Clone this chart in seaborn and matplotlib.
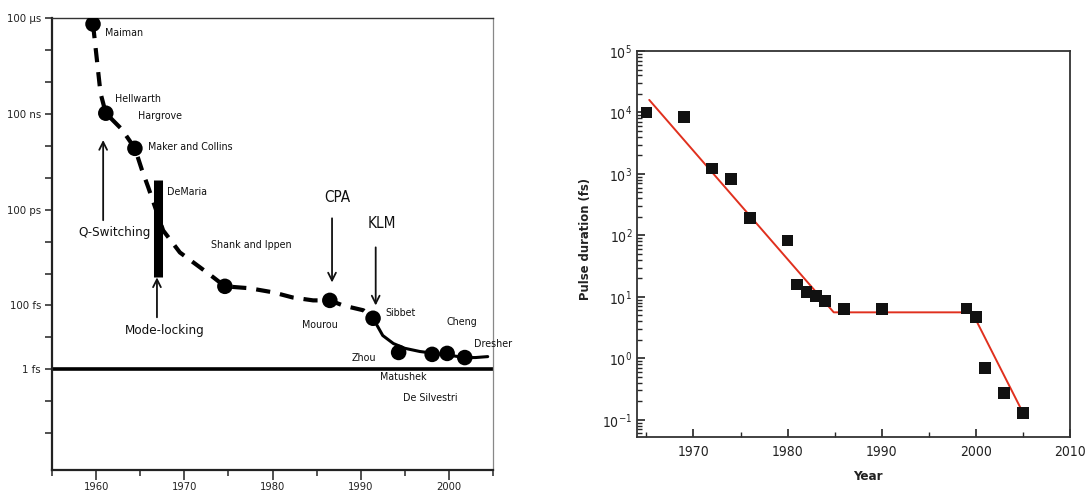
import numpy as np
import pandas as pd
import matplotlib
matplotlib.use("Agg")
import matplotlib.pyplot as plt
from matplotlib import font_manager as fm
from matplotlib.ticker import FixedLocator, NullFormatter, LogFormatterMathtext
import seaborn as sns

# ---------------- data: left panel (history of short pulses) ----------------
dot_years = [1959.65, 1961.1, 1964.4, 1974.6, 1986.5, 1991.4, 1994.3, 1998.1, 1999.8, 2001.8]
dot_log_fs = [10.81, 8.02, 6.92, 2.60, 2.16, 1.60, 0.53, 0.47, 0.50, 0.37]

dash_years = [1959.65, 1960.5, 1961.1, 1962.9, 1964.4, 1965.2, 1965.9, 1967.6, 1969.5,
              1971.8, 1973.3, 1974.6, 1977.4, 1980.1, 1982.3, 1984.6, 1986.5, 1988.0,
              1990.3, 1991.4]
dash_log_fs = [10.81, 8.65, 8.02, 7.52, 6.92, 6.24, 5.71, 4.35, 3.66,
               3.19, 2.88, 2.60, 2.54, 2.41, 2.25, 2.16, 2.16, 2.00,
               1.85, 1.60]
solid_years = [1991.4, 1992.5, 1993.7, 1995.0, 1996.7, 1998.4, 2000.1, 2001.8, 2003.0, 2004.4]
solid_log_fs = [1.60, 1.06, 0.81, 0.66, 0.56, 0.50, 0.44, 0.37, 0.37, 0.40]

demaria_year = 1967.0
demaria_log_range = [2.88, 5.92]

left_ytick_exp = [11, 8, 5, 2, 0]
left_ytick_labels = ["100 \u00b5s", "100 ns", "100 ps", "100 fs", "1 fs"]

# names: (text, index of dot it belongs to, offset px right, offset px up)
names = ["Maiman", "Hellwarth", "Hargrove", "Maker and Collins", "Shank and Ippen",
         "Mourou", "Sibbet", "Zhou", "Matushek", "De Silvestri", "Cheng", "Dresher"]
name_dot = [0, 1, 1, 2, 3, 4, 5, 6, 6, 7, 8, 9]
name_dx = [12, 9, 32, 13, -14, -10, 12, -47, -19, -29, -1, 9]
name_dy = [-9, 14, -3, 1, 41, -25, 5, -6, -25, -44, 31, 14]
name_ha = ["left", "left", "left", "left", "left", "center", "left", "left", "left",
           "left", "left", "left"]

# technique arrows: label, arrow x, tail exp, tip exp, label x, label exp
tech_labels = ["Q-Switching", "Mode-locking", "CPA", "KLM"]
tech_x = [1960.8, 1966.9, 1986.75, 1991.7]
tech_tail = [4.67, 1.63, 4.73, 3.82]
tech_tip = [7.18, 2.88, 2.72, 2.00]
tech_tx = [1962.1, 1967.8, 1987.3, 1992.4]
tech_ty = [4.29, 1.22, 5.39, 4.57]
tech_size = [9.2, 9.2, 10.5, 10.5]

# ---------------- data: right panel (pulse duration vs year) ----------------
sq_years = [1965, 1969, 1972, 1974, 1976, 1980, 1981, 1982, 1983, 1984, 1986, 1990,
            1999, 2000, 2001, 2003, 2005]
sq_fs = [10000, 8500, 1230, 830, 190, 83, 16, 12, 10.3, 8.5, 6.3, 6.3,
         6.5, 4.7, 0.69, 0.27, 0.13]
fit_years = [1965.3, 1984.9, 1999.6, 2004.8]
fit_fs = [16000, 5.6, 5.6, 0.15]

# ---------------- style ----------------
sns.set_style("ticks")


def _find(fam, stretch="normal"):
    try:
        return fm.findfont(fm.FontProperties(family=fam, stretch=stretch),
                           fallback_to_default=False)
    except Exception:
        return None


# the reference uses a condensed grotesque; use a narrow face when available
k = 1.0
fam = ["Liberation Sans", "DejaVu Sans"]
stretch = "normal"
if _find("Liberation Sans Narrow"):
    fam = ["Liberation Sans Narrow", "Liberation Sans", "DejaVu Sans"]
    k = 1.2
else:
    p = _find("DejaVu Sans", "condensed")
    if p and "ondensed" in p:
        fam = ["DejaVu Sans", "Liberation Sans"]
        stretch = "condensed"
        k = 1.05
plt.rcParams["font.family"] = fam
plt.rcParams["font.stretch"] = stretch
plt.rcParams["mathtext.fontset"] = "custom"
plt.rcParams["mathtext.rm"] = fam[0]
plt.rcParams["mathtext.bf"] = fam[0] + ":bold"

fig = plt.figure(figsize=(10.9, 5.0), dpi=100)
axL = fig.add_axes([52 / 1090, 30 / 500, 441 / 1090, 452 / 500])
axR = fig.add_axes([637 / 1090, 63 / 500, 433 / 1090, 386 / 500])

# ---------------- left panel ----------------
dash_df = pd.DataFrame({"year": dash_years, "fs": 10.0 ** np.array(dash_log_fs)})
solid_df = pd.DataFrame({"year": solid_years, "fs": 10.0 ** np.array(solid_log_fs)})
dots_df = pd.DataFrame({"year": dot_years, "fs": 10.0 ** np.array(dot_log_fs)})

sns.lineplot(data=dash_df, x="year", y="fs", ax=axL, color="black", lw=3.0,
             linestyle=(0, (3.4, 2.4)), estimator=None, sort=False, zorder=2)
sns.lineplot(data=solid_df, x="year", y="fs", ax=axL, color="black", lw=2.2,
             estimator=None, sort=False, zorder=2)
sns.scatterplot(data=dots_df, x="year", y="fs", ax=axL, color="black", s=125,
                marker="o", edgecolor="none", zorder=3)
axL.plot([demaria_year, demaria_year], 10.0 ** np.array(demaria_log_range),
         color="black", lw=6.5, solid_capstyle="butt", zorder=3)
axL.axhline(1.0, color="black", lw=2.6, zorder=2)

axL.set_yscale("log")
axL.set_xlim(1955, 2005)
axL.set_ylim(10 ** -3.15, 10 ** 11)
tick_exps = list(range(-2, 12))
axL.yaxis.set_major_locator(FixedLocator([10.0 ** e for e in tick_exps]))
axL.yaxis.set_minor_locator(FixedLocator([]))
ylabels = [left_ytick_labels[left_ytick_exp.index(e)] if e in left_ytick_exp else ""
           for e in tick_exps]
axL.set_yticklabels(ylabels)
axL.xaxis.set_major_locator(FixedLocator([1960, 1970, 1980, 1990, 2000]))
axL.xaxis.set_minor_locator(FixedLocator([1955, 1965, 1975, 1985, 1995, 2005]))
axL.tick_params(axis="y", which="major", direction="out", length=5, width=1.1,
                labelsize=7.8 * k, pad=3, colors="#222222")
axL.tick_params(axis="x", which="major", direction="out", length=7, width=1.1,
                labelsize=7.6 * k, pad=2, colors="#222222")
axL.tick_params(axis="x", which="minor", direction="out", length=4, width=1.1)
axL.set_xlabel("")
axL.set_ylabel("")
for side in ["left", "bottom"]:
    axL.spines[side].set_linewidth(1.6)
    axL.spines[side].set_color("#222222")
axL.spines["top"].set_linewidth(1.0)
axL.spines["top"].set_color("#333333")
axL.spines["right"].set_linewidth(0.9)
axL.spines["right"].set_color("#888888")
axL.spines["top"].set_visible(True)
axL.spines["right"].set_visible(True)

for txt, di, dx, dy, ha in zip(names, name_dot, name_dx, name_dy, name_ha):
    axL.annotate(txt, xy=(dot_years[di], 10.0 ** dot_log_fs[di]),
                 xytext=(dx * 0.72, dy * 0.72), textcoords="offset points",
                 ha=ha, va="center", fontsize=7.3 * k, color="#111111",
                 annotation_clip=False, zorder=4)
axL.annotate("DeMaria", xy=(demaria_year, 10.0 ** demaria_log_range[1]),
             xytext=(9 * 0.72, -12 * 0.72), textcoords="offset points",
             ha="left", va="center", fontsize=7.3 * k, color="#111111")

for lab, x, t0, t1, tx, ty, fsz in zip(tech_labels, tech_x, tech_tail, tech_tip,
                                       tech_tx, tech_ty, tech_size):
    axL.annotate("", xy=(x, 10.0 ** t1), xytext=(x, 10.0 ** t0),
                 arrowprops=dict(arrowstyle="->", color="#111111", lw=1.3,
                                 mutation_scale=14, shrinkA=0, shrinkB=0))
    axL.text(tx, 10.0 ** ty, lab, ha="center", va="center", fontsize=fsz * k,
             color="#111111")

# ---------------- right panel ----------------
sq_df = pd.DataFrame({"year": sq_years, "fs": sq_fs})
fit_df = pd.DataFrame({"year": fit_years, "fs": fit_fs})
sns.lineplot(data=fit_df, x="year", y="fs", ax=axR, color="#e0301e", lw=1.4,
             estimator=None, sort=False, zorder=2)
sns.scatterplot(data=sq_df, x="year", y="fs", ax=axR, color="#111111", s=70,
                marker="s", edgecolor="none", zorder=3)
axR.set_yscale("log")
axR.set_xlim(1964, 2010)
axR.set_ylim(10 ** -1.28, 1e5)
maj_exps = list(range(-1, 6))
axR.yaxis.set_major_locator(FixedLocator([10.0 ** e for e in maj_exps]))
axR.yaxis.set_major_formatter(LogFormatterMathtext())
minors = [m * 10.0 ** e for e in range(-2, 5) for m in range(2, 10)
          if 10 ** -1.28 <= m * 10.0 ** e <= 1e5]
axR.yaxis.set_minor_locator(FixedLocator(minors))
axR.yaxis.set_minor_formatter(NullFormatter())
axR.xaxis.set_major_locator(FixedLocator([1970, 1980, 1990, 2000, 2010]))
axR.xaxis.set_minor_locator(FixedLocator([1965, 1975, 1985, 1995, 2005]))
axR.tick_params(axis="both", which="major", direction="in", length=6, width=1.2,
                labelsize=9.5 * k, colors="#222222")
axR.tick_params(axis="both", which="minor", direction="in", length=3.5, width=1.0)
axR.tick_params(axis="x", pad=6)
for s in axR.spines.values():
    s.set_visible(True)
    s.set_linewidth(1.3)
    s.set_color("#333333")
axR.set_xlabel("Year", fontsize=9.2 * k, fontweight="bold", color="#222222")
axR.set_ylabel("Pulse duration (fs)", fontsize=8.8 * k, fontweight="bold",
               color="#222222")
axR.xaxis.set_label_coords(0.533, -0.085)
axR.yaxis.set_label_coords(-0.104, 0.513)

fig.savefig("out.png", dpi=100)
